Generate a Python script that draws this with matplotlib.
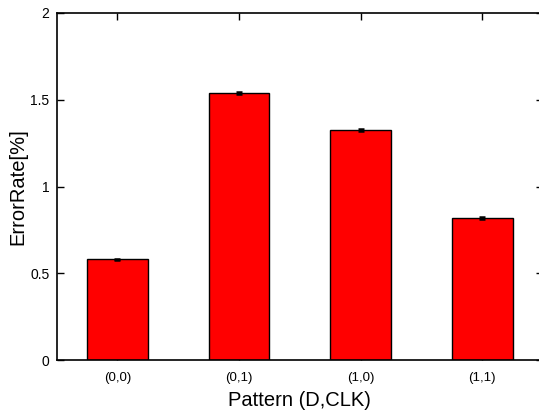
import matplotlib
matplotlib.use("Agg")
import matplotlib.pyplot as plt

categories = ["(0,0)", "(0,1)", "(1,0)", "(1,1)"]
values = [0.580, 1.537, 1.324, 0.817]
errors = [0.005, 0.005, 0.005, 0.005]
yticks = [0, 0.5, 1, 1.5, 2]
ytick_labels = ["0", "0.5", "1", "1.5", "2"]

plt.rcParams['font.family'] = ['Liberation Sans', 'DejaVu Sans']

fig = plt.figure(figsize=(5.39, 4.13), dpi=100)
W, H = 539, 413
left, right, top, bottom = 56.5, 543, 13, 360
ax = fig.add_axes([left / W, 1 - bottom / H, (right - left) / W, (bottom - top) / H])

x = list(range(len(categories)))
ax.bar(x, values, width=0.5, color='#ff0000', edgecolor='black', linewidth=1.0,
       yerr=errors, capsize=2.5, error_kw=dict(ecolor='black', elinewidth=1.0, capthick=1.8), zorder=2)

ax.set_xlim(-0.5, 3.5)
ax.set_ylim(0, 2)
ax.set_xticks(x)
ax.set_xticklabels(categories, fontsize=9.5)
ax.set_yticks(yticks)
ax.set_yticklabels(ytick_labels, fontsize=10)
ax.tick_params(direction='in', top=True, right=True, length=5, width=1, pad=5)
ax.tick_params(axis='x', pad=9)
for s in ax.spines.values():
    s.set_linewidth(1.2)
ax.set_xlabel("Pattern (D,CLK)", fontsize=14.5, labelpad=5)
ax.set_ylabel("ErrorRate[%]", fontsize=14.5, labelpad=2)

fig.savefig("out.png", dpi=100)
